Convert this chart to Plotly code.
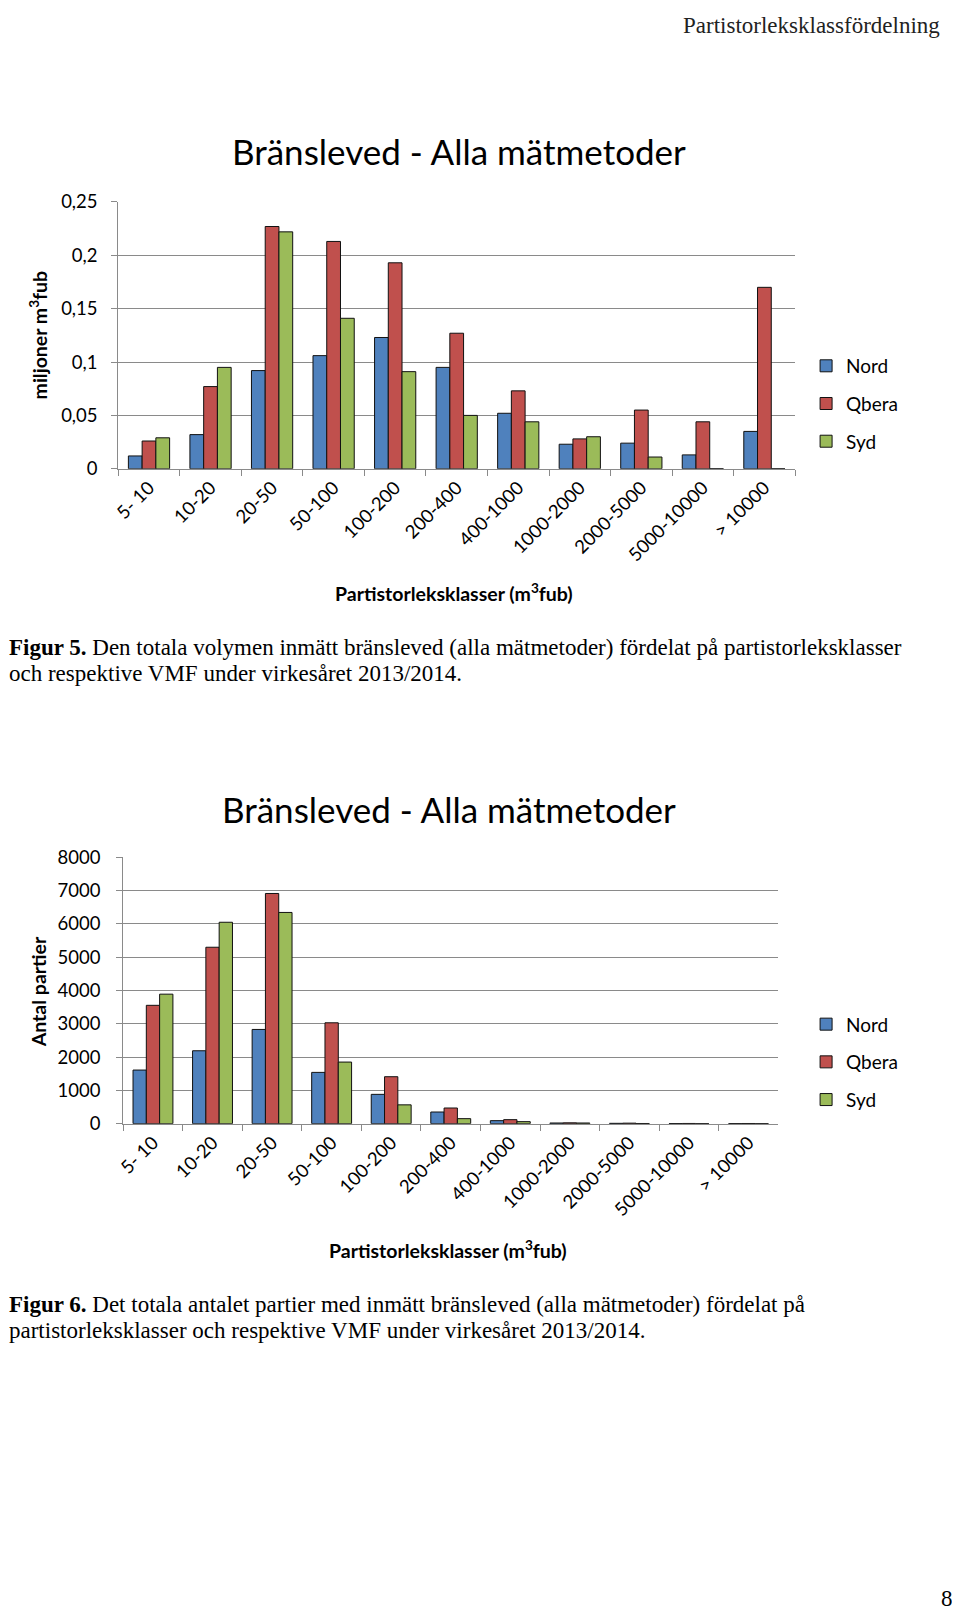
# Partistorleksklassfördelning - bränsleved, volym och antal partier per klass

import plotly.graph_objects as go

W, H = 944, 1604

classes = ['5- 10', '10-20', '20-50', '50-100', '100-200', '200-400',
           '400-1000', '1000-2000', '2000-5000', '5000-10000', '> 10000']

# Figur 5: volym (miljoner m3fub)
vol_nord = [0.012, 0.032, 0.092, 0.106, 0.123, 0.095, 0.052, 0.023, 0.024, 0.013, 0.035]
vol_qbera = [0.026, 0.077, 0.227, 0.213, 0.193, 0.127, 0.073, 0.028, 0.055, 0.044, 0.170]
vol_syd = [0.029, 0.095, 0.222, 0.141, 0.091, 0.050, 0.044, 0.030, 0.011, 0, 0]

# Figur 6: antal partier
cnt_nord = [1610, 2190, 2830, 1540, 880, 350, 90, 20, 10, 4, 3]
cnt_qbera = [3555, 5300, 6915, 3030, 1410, 470, 120, 25, 15, 6, 5]
cnt_syd = [3890, 6050, 6345, 1850, 565, 150, 60, 20, 5, 0, 0]

vol_ticks = [0, 0.05, 0.1, 0.15, 0.2, 0.25]
vol_ticktext = ['0', '0,05', '0,1', '0,15', '0,2', '0,25']
cnt_ticks = [0, 1000, 2000, 3000, 4000, 5000, 6000, 7000, 8000]
cnt_ticktext = ['0', '1000', '2000', '3000', '4000', '5000', '6000', '7000', '8000']

colors = {'Nord': '#4F81BD', 'Qbera': '#C0504D', 'Syd': '#9BBB59'}
GRID = '#8a8a8a'
SANS = 'Lato'
SERIF = 'Liberation Serif'


# positions below are given in figure pixels from the top-left corner
def px_x(x):
    return x / W


def px_y(y):
    return 1 - y / H


fig = go.Figure()

for name, vals in [('Nord', vol_nord), ('Qbera', vol_qbera), ('Syd', vol_syd)]:
    fig.add_trace(go.Bar(
        x=classes, y=vals, name=name, legendgroup='a' + name,
        marker=dict(color=colors[name], line=dict(color='#111111', width=1)),
        xaxis='x', yaxis='y', legend='legend'
    ))

for name, vals in [('Nord', cnt_nord), ('Qbera', cnt_qbera), ('Syd', cnt_syd)]:
    fig.add_trace(go.Bar(
        x=classes, y=vals, name=name, legendgroup='b' + name,
        marker=dict(color=colors[name], line=dict(color='#111111', width=1)),
        xaxis='x2', yaxis='y2', legend='legend2'
    ))

xaxis_common = dict(
    type='category', showline=True, linecolor=GRID, linewidth=1,
    ticks='outside', tickson='boundaries', ticklen=6, tickcolor=GRID,
    tickangle=-45, showgrid=False,
    tickfont=dict(family=SANS, size=18.5, color='#000000'),
)
yaxis_common = dict(
    showline=True, linecolor=GRID, linewidth=1, ticks='outside', ticklen=6,
    tickcolor=GRID, showgrid=True, gridcolor=GRID, gridwidth=1, zeroline=False,
    tickmode='array', tickfont=dict(family=SANS, size=18.5, color='#000000'),
)
legend_common = dict(
    xanchor='left', yanchor='top', font=dict(family=SANS, size=19, color='#000000'),
    tracegroupgap=10, bgcolor='rgba(0,0,0,0)',
)

fig.update_layout(
    width=W, height=H,
    margin=dict(l=0, r=0, t=0, b=0),
    paper_bgcolor='white', plot_bgcolor='white',
    barmode='group', bargap=0.33, bargroupgap=0,
    xaxis=dict(xaxis_common, domain=[px_x(104), px_x(786)], anchor='y'),
    yaxis=dict(yaxis_common, domain=[px_y(455), px_y(184.5)], anchor='x',
               range=[0, 0.25], tickvals=vol_ticks, ticktext=vol_ticktext,
               ticklabelstandoff=10),
    xaxis2=dict(xaxis_common, domain=[px_x(109), px_x(769)], anchor='y2'),
    yaxis2=dict(yaxis_common, domain=[px_y(1119), px_y(849)], anchor='x2',
                range=[0, 8000], tickvals=cnt_ticks, ticktext=cnt_ticktext,
                ticklabelstandoff=12),
    legend=dict(legend_common, x=px_x(797), y=px_y(331.5)),
    legend2=dict(legend_common, x=px_x(797), y=px_y(999)),
)

annotations = [
    # sidhuvud
    dict(x=px_x(934), y=px_y(6), text='Partistorleksklassfördelning',
         xanchor='right', yanchor='middle',
         font=dict(family=SERIF, size=23, color='#222222')),
    # diagramrubriker
    dict(x=px_x(447), y=px_y(133), text='Bränsleved - Alla mätmetoder',
         xanchor='center', yanchor='middle', font=dict(family=SANS, size=35)),
    dict(x=px_x(437), y=px_y(800), text='Bränsleved - Alla mätmetoder',
         xanchor='center', yanchor='middle', font=dict(family=SANS, size=35)),
    # axeltitlar
    dict(x=px_x(442), y=px_y(580), text='<b>Partistorleksklasser (m<sup>3</sup>fub)</b>',
         xanchor='center', yanchor='middle', font=dict(family=SANS, size=19.5)),
    dict(x=px_x(436), y=px_y(1247), text='<b>Partistorleksklasser (m<sup>3</sup>fub)</b>',
         xanchor='center', yanchor='middle', font=dict(family=SANS, size=19.5)),
    dict(x=px_x(24), y=px_y(319), text='<b>miljoner m<sup>3</sup>fub</b>', textangle=-90,
         xanchor='center', yanchor='middle', font=dict(family=SANS, size=19.5)),
    dict(x=px_x(24), y=px_y(985), text='<b>Antal partier</b>', textangle=-90,
         xanchor='center', yanchor='middle', font=dict(family=SANS, size=19.5)),
    # figurtexter, en rad per annotation
    dict(x=px_x(-8), y=px_y(636),
         text='<b>Figur 5.</b> Den totala volymen inmätt bränsleved (alla mätmetoder) '
              'fördelat på partistorleksklasser',
         xanchor='left', yanchor='middle', font=dict(family=SERIF, size=23)),
    dict(x=px_x(-8), y=px_y(663),
         text='och respektive VMF under virkesåret 2013/2014.',
         xanchor='left', yanchor='middle', font=dict(family=SERIF, size=23)),
    dict(x=px_x(-8), y=px_y(1302),
         text='<b>Figur 6.</b> Det totala antalet partier med inmätt bränsleved (alla mätmetoder) '
              'fördelat på',
         xanchor='left', yanchor='middle', font=dict(family=SERIF, size=23)),
    dict(x=px_x(-8), y=px_y(1329),
         text='partistorleksklasser och respektive VMF under virkesåret 2013/2014.',
         xanchor='left', yanchor='middle', font=dict(family=SERIF, size=23)),
    # sidnummer
    dict(x=px_x(947), y=px_y(1600), text='8', xanchor='right', yanchor='middle',
         font=dict(family=SERIF, size=23)),
]
for a in annotations:
    a.update(xref='paper', yref='paper', showarrow=False)
    a['font'].setdefault('color', '#000000')
fig.update_layout(annotations=annotations)

fig.write_html("out.html")
